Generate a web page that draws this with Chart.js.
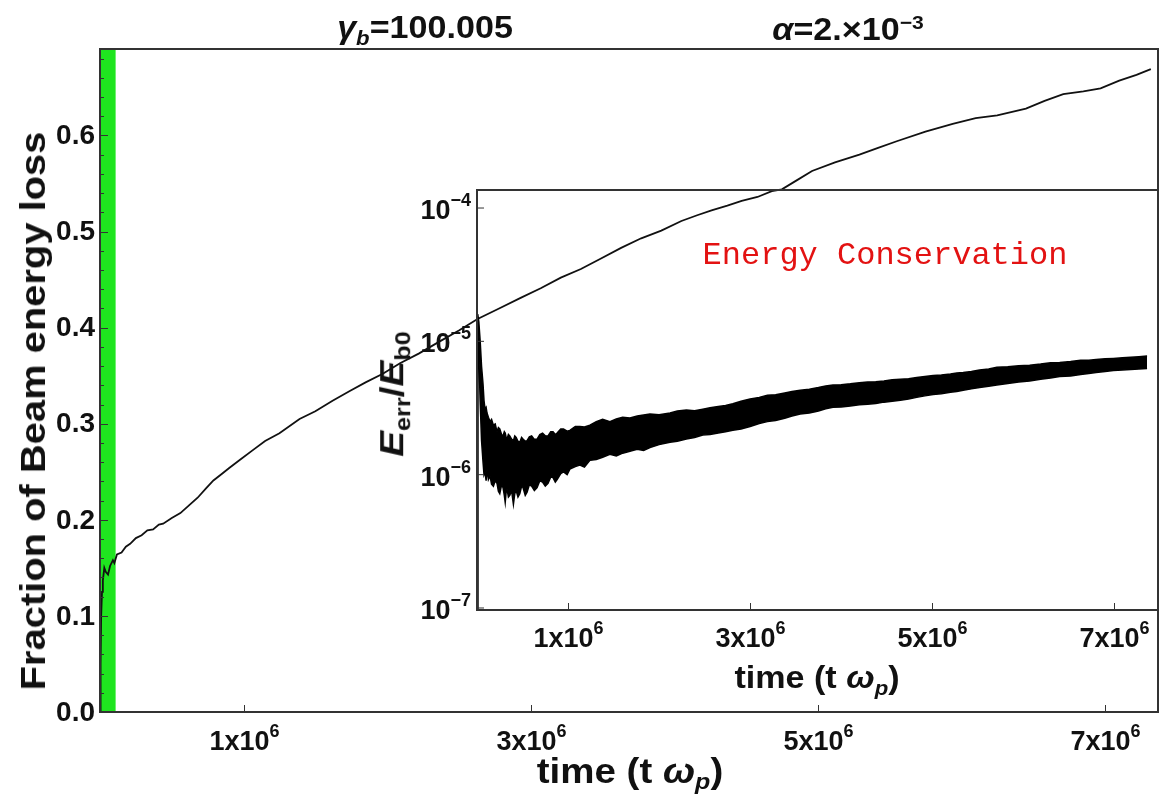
<!DOCTYPE html>
<html>
<head>
<meta charset="utf-8">
<title>Beam energy loss</title>
<script src="https://cdn.jsdelivr.net/npm/chart.js@4.4.1/dist/chart.umd.min.js"></script>
<style>
  body { margin: 0; background: #fff; }
  #wrap { position: relative; width: 1161px; height: 800px; overflow: hidden;
          font-family: "Liberation Sans", Arial, sans-serif; font-weight: bold; color: #111; }
  #mainChart { position: absolute; left: 0; top: 0; }
  #insetChart { position: absolute; left: 360px; top: 170px; }
  .lbl { position: absolute; white-space: nowrap; transform: translate(-50%, -50%) scaleX(1.1); }
  .lbl sub { font-size: 0.65em; vertical-align: -0.3em; }
  .lbl sup { font-size: 0.62em; vertical-align: 0.6em; }
  .rot { transform: translate(-50%, -50%) rotate(-90deg) scaleX(1.14); }
  #energyNote { font-family: "Liberation Mono", "Courier New", monospace; font-weight: normal;
                color: #e31212; font-size: 32px; transform: translate(-50%, -50%); }
</style>
</head>
<body>
<div id="wrap">
  <canvas id="mainChart" width="1161" height="800"></canvas>
  <canvas id="insetChart" width="801" height="530"></canvas>

  <div class="lbl" style="left:425px; top:30px; font-size:31px;"><i>γ</i><sub><i>b</i></sub>=100.005</div>
  <div class="lbl" style="left:848px; top:30px; font-size:31px;"><i>α</i>=2.×10<sup>−3</sup></div>
  <div class="lbl rot" style="left:33px; top:411px; font-size:35px;">Fraction of Beam energy loss</div>
  <div class="lbl" style="left:630px; top:773px; font-size:35px;">time (t <i>ω</i><sub><i>p</i></sub>)</div>
  <div class="lbl" style="left:817px; top:680px; font-size:31px;">time (t <i>ω</i><sub><i>p</i></sub>)</div>
  <div class="lbl rot" style="left:394px; top:394px; font-size:34px;"><i>E</i><sub>err</sub>/<i>E</i><sub>b0</sub></div>
  <div class="lbl" id="energyNote" style="left:885px; top:255px;">Energy Conservation</div>
</div>

<script>
// fraction of beam energy lost vs time (time in units of 10^6 / omega_p)
const lossTime = [0, 0.004, 0.008, 0.014, 0.02, 0.03, 0.04, 0.056, 0.07, 0.09, 0.1, 0.118,
  0.15, 0.18, 0.21, 0.25, 0.29, 0.33, 0.37, 0.41, 0.44, 0.5, 0.56, 0.62, 0.68, 0.74, 0.79,
  0.85, 0.9, 0.98, 1.06, 1.15, 1.25, 1.39, 1.5, 1.62, 1.74, 1.85, 1.97, 2.09, 2.22, 2.37,
  2.5, 2.63, 2.78, 2.93, 3.07, 3.21, 3.35, 3.49, 3.63, 3.77, 3.91, 4.05, 4.16, 4.26, 4.37,
  4.47, 4.58, 4.68, 4.75, 4.85, 4.96, 5.12, 5.29, 5.42, 5.55, 5.75, 5.94, 6.1, 6.25, 6.45,
  6.58, 6.71, 6.85, 6.97, 7.1, 7.22, 7.32];
const lossFrac = [0, 0.05, 0.1, 0.125, 0.137, 0.15, 0.146, 0.143, 0.152, 0.158, 0.155, 0.164,
  0.166, 0.172, 0.175, 0.181, 0.184, 0.189, 0.19, 0.195, 0.196, 0.202, 0.207, 0.215, 0.223,
  0.233, 0.241, 0.248, 0.254, 0.263, 0.272, 0.282, 0.29, 0.305, 0.313, 0.324, 0.334, 0.343,
  0.352, 0.363, 0.373, 0.386, 0.397, 0.409, 0.42, 0.431, 0.441, 0.452, 0.461, 0.472, 0.483,
  0.493, 0.501, 0.511, 0.517, 0.522, 0.527, 0.532, 0.536, 0.542, 0.544, 0.553, 0.563, 0.572,
  0.58, 0.587, 0.594, 0.604, 0.612, 0.618, 0.621, 0.628, 0.636, 0.643, 0.646, 0.649, 0.657,
  0.663, 0.669];

// shaded early-time window
const bandEnd = 0.11;

// energy conservation error: upper and lower edge of the oscillating trace
const errTime = [0, 0.008, 0.02, 0.035, 0.05, 0.066, 0.077, 0.088, 0.1, 0.11, 0.125, 0.143,
  0.16, 0.18, 0.2, 0.22, 0.235, 0.25, 0.27, 0.286, 0.3, 0.31, 0.32, 0.33, 0.345, 0.36, 0.38,
  0.4, 0.415, 0.43, 0.45, 0.47, 0.49, 0.505, 0.53, 0.55, 0.575, 0.6, 0.63, 0.66, 0.69, 0.72,
  0.75, 0.78, 0.81, 0.835, 0.86, 0.88, 0.92, 0.95, 0.99, 1.02, 1.08, 1.13, 1.18, 1.24, 1.31,
  1.38, 1.46, 1.53, 1.6, 1.68, 1.76, 1.83, 1.9, 2.0, 2.12, 2.2, 2.3, 2.39, 2.48, 2.56, 2.65,
  2.73, 2.81, 2.9, 3.0, 3.1, 3.19, 3.28, 3.38, 3.46, 3.55, 3.65, 3.75, 3.83, 3.91, 4.0, 4.1,
  4.2, 4.29, 4.38, 4.47, 4.56, 4.65, 4.74, 4.83, 4.92, 5.01, 5.1, 5.2, 5.27, 5.34, 5.43, 5.52,
  5.62, 5.71, 5.83, 5.95, 6.07, 6.19, 6.3, 6.4, 6.52, 6.63, 6.72, 6.8, 6.9, 6.99, 7.09, 7.18,
  7.27, 7.36];
const errHigh = [1e-8, 1.6e-5, 1.4e-5, 1.0e-5, 6.5e-6, 4.8e-6, 3.6e-6, 3.1e-6, 3.2e-6, 2.9e-6,
  2.7e-6, 2.5e-6, 2.6e-6, 2.35e-6, 2.4e-6, 2.1e-6, 2.25e-6, 2.2e-6, 2.0e-6, 1.95e-6, 2.1e-6,
  2.05e-6, 1.9e-6, 1.85e-6, 2.0e-6, 1.95e-6, 1.85e-6, 1.8e-6, 1.95e-6, 1.9e-6, 1.78e-6, 1.75e-6,
  1.9e-6, 1.85e-6, 1.78e-6, 1.8e-6, 1.92e-6, 1.95e-6, 1.84e-6, 1.85e-6, 2.0e-6, 2.05e-6, 1.96e-6,
  1.95e-6, 2.1e-6, 2.1e-6, 2.0e-6, 2.05e-6, 2.2e-6, 2.2e-6, 2.12e-6, 2.15e-6, 2.3e-6, 2.3e-6,
  2.28e-6, 2.35e-6, 2.5e-6, 2.6e-6, 2.5e-6, 2.62e-6, 2.7e-6, 2.66e-6, 2.75e-6, 2.8e-6, 2.85e-6,
  2.82e-6, 2.9e-6, 3.0e-6, 3.05e-6, 3.02e-6, 3.1e-6, 3.18e-6, 3.25e-6, 3.3e-6, 3.4e-6, 3.55e-6,
  3.7e-6, 3.8e-6, 3.95e-6, 3.98e-6, 4.1e-6, 4.2e-6, 4.3e-6, 4.38e-6, 4.5e-6, 4.62e-6, 4.7e-6,
  4.72e-6, 4.8e-6, 4.9e-6, 4.95e-6, 4.98e-6, 5.05e-6, 5.15e-6, 5.2e-6, 5.25e-6, 5.35e-6,
  5.45e-6, 5.55e-6, 5.6e-6, 5.7e-6, 5.8e-6, 5.85e-6, 5.95e-6, 6.1e-6, 6.2e-6, 6.4e-6, 6.45e-6,
  6.55e-6, 6.62e-6, 6.75e-6, 6.9e-6, 6.95e-6, 7.05e-6, 7.2e-6, 7.22e-6, 7.3e-6, 7.4e-6,
  7.45e-6, 7.52e-6, 7.6e-6, 7.68e-6, 7.75e-6];
const errLow = [1e-8, 1.3e-5, 8e-6, 3.5e-6, 1.8e-6, 1.25e-6, 1.0e-6, 1.05e-6, 0.9e-6, 1.1e-6,
  0.92e-6, 0.98e-6, 0.85e-6, 0.82e-6, 0.9e-6, 0.86e-6, 0.75e-6, 0.72e-6, 0.84e-6, 0.8e-6,
  0.7e-6, 0.62e-6, 0.74e-6, 0.78e-6, 0.68e-6, 0.7e-6, 0.76e-6, 0.6e-6, 0.72e-6, 0.76e-6,
  0.68e-6, 0.72e-6, 0.82e-6, 0.8e-6, 0.7e-6, 0.74e-6, 0.84e-6, 0.82e-6, 0.76e-6, 0.8e-6,
  0.9e-6, 0.88e-6, 0.82e-6, 0.86e-6, 0.96e-6, 0.95e-6, 0.88e-6, 0.92e-6, 1.02e-6, 1.05e-6,
  1.0e-6, 1.1e-6, 1.15e-6, 1.18e-6, 1.14e-6, 1.28e-6, 1.3e-6, 1.35e-6, 1.42e-6, 1.38e-6,
  1.45e-6, 1.5e-6, 1.55e-6, 1.52e-6, 1.6e-6, 1.68e-6, 1.75e-6, 1.78e-6, 1.85e-6, 1.9e-6,
  1.98e-6, 2.0e-6, 2.05e-6, 2.1e-6, 2.15e-6, 2.2e-6, 2.3e-6, 2.42e-6, 2.5e-6, 2.55e-6, 2.65e-6,
  2.75e-6, 2.85e-6, 2.9e-6, 3.0e-6, 3.12e-6, 3.2e-6, 3.22e-6, 3.28e-6, 3.35e-6, 3.38e-6,
  3.42e-6, 3.5e-6, 3.55e-6, 3.62e-6, 3.7e-6, 3.8e-6, 3.9e-6, 4.0e-6, 4.05e-6, 4.15e-6, 4.2e-6,
  4.3e-6, 4.4e-6, 4.5e-6, 4.6e-6, 4.7e-6, 4.82e-6, 4.95e-6, 5.05e-6, 5.2e-6, 5.3e-6, 5.45e-6,
  5.5e-6, 5.65e-6, 5.75e-6, 5.85e-6, 5.95e-6, 6.05e-6, 6.1e-6, 6.15e-6, 6.2e-6, 6.25e-6];

// tick labels
const lossTicks = [0, 0.1, 0.2, 0.3, 0.4, 0.5, 0.6];
const timeTicks = [1, 3, 5, 7];
const errExponents = [-7, -6, -5, -4];

const FONT = '"Liberation Sans", Arial, sans-serif';
const INK = '#111';

function pts(xs, ys, xScale) {
  return xs.map((x, i) => ({ x: x * xScale, y: ys[i] }));
}

// "1x10" followed by a raised exponent
function supLabel(ctx, base, sup, x, baseline, align) {
  ctx.font = 'bold 27px ' + FONT;
  const w1 = ctx.measureText(base).width;
  ctx.font = 'bold 18px ' + FONT;
  const w2 = ctx.measureText(sup).width;
  let left = align === 'right' ? x - w1 - w2 : x - (w1 + w2) / 2;
  ctx.textAlign = 'left';
  ctx.textBaseline = 'alphabetic';
  ctx.font = 'bold 27px ' + FONT;
  ctx.fillText(base, left, baseline);
  ctx.font = 'bold 18px ' + FONT;
  ctx.fillText(sup, left + w1, baseline - 13);
}

function frame(ctx, a) {
  ctx.strokeStyle = '#333';
  ctx.lineWidth = 2;
  ctx.strokeRect(a.left, a.top, a.right - a.left, a.bottom - a.top);
}

const mainAxes = {
  id: 'mainAxes',
  afterDraw(chart) {
    const { ctx, chartArea: a, scales: { x, y } } = chart;
    ctx.save();
    frame(ctx, a);
    ctx.strokeStyle = '#333';
    ctx.lineWidth = 1;
    // minor ticks every 0.02 on the left axis
    for (let v = 0.02; v < 0.69; v += 0.02) {
      const py = Math.round(y.getPixelForValue(v)) + 0.5;
      const len = Math.abs(v * 10 - Math.round(v * 10)) < 1e-6 ? 8 : 4;
      ctx.beginPath(); ctx.moveTo(a.left, py); ctx.lineTo(a.left + len, py); ctx.stroke();
    }
    ctx.fillStyle = INK;
    ctx.font = 'bold 28px ' + FONT;
    ctx.textAlign = 'right';
    ctx.textBaseline = 'middle';
    lossTicks.forEach(v => ctx.fillText(v.toFixed(1), a.left - 5, y.getPixelForValue(v) + 1));
    timeTicks.forEach(t => {
      const px = Math.round(x.getPixelForValue(t * 1e6)) + 0.5;
      ctx.beginPath(); ctx.moveTo(px, a.bottom); ctx.lineTo(px, a.bottom - 7); ctx.stroke();
      supLabel(ctx, t + 'x10', '6', px, a.bottom + 38, 'center');
    });
    ctx.restore();
  }
};

const insetAxes = {
  id: 'insetAxes',
  afterDraw(chart) {
    const { ctx, chartArea: a, scales: { x, y } } = chart;
    ctx.save();
    frame(ctx, a);
    ctx.strokeStyle = '#333';
    ctx.lineWidth = 1;
    ctx.fillStyle = INK;
    errExponents.forEach(e => {
      const py = y.getPixelForValue(Math.pow(10, e));
      ctx.beginPath(); ctx.moveTo(a.left, py); ctx.lineTo(a.left + 7, py); ctx.stroke();
      supLabel(ctx, '10', '−' + Math.abs(e), a.left - 6, py + 11, 'right');
    });
    timeTicks.forEach(t => {
      const px = Math.round(x.getPixelForValue(t * 1e6)) + 0.5;
      ctx.beginPath(); ctx.moveTo(px, a.bottom); ctx.lineTo(px, a.bottom - 7); ctx.stroke();
      supLabel(ctx, t + 'x10', '6', px, a.bottom + 37, 'center');
    });
    ctx.restore();
  }
};

// Main chart
new Chart(document.getElementById('mainChart'), {
  type: 'line',
  data: {
    datasets: [{
      data: pts(lossTime, lossFrac, 1e6),
      borderColor: INK,
      borderWidth: 1.8,
      pointRadius: 0,
      tension: 0
    }, {
      data: [{ x: 0, y: 0.69 }, { x: bandEnd * 1e6, y: 0.69 }],
      borderWidth: 0,
      backgroundColor: '#1fe51f',
      fill: 'origin',
      pointRadius: 0
    }]
  },
  options: {
    responsive: false,
    animation: false,
    layout: { padding: { left: 0, right: 3, top: 49, bottom: 0 } },
    plugins: { legend: { display: false }, tooltip: { enabled: false } },
    scales: {
      x: {
        type: 'linear', min: 0, max: 7.37e6,
        grid: { display: false }, border: { display: false },
        ticks: { display: false },
        afterFit(s) { s.height = 88; }
      },
      y: {
        min: 0, max: 0.69,
        grid: { display: false }, border: { display: false },
        ticks: { display: false },
        afterFit(s) { s.width = 100; }
      }
    }
  },
  plugins: [mainAxes]
});

// Inset: energy conservation error on a log scale
new Chart(document.getElementById('insetChart'), {
  type: 'line',
  data: {
    datasets: [{
      data: pts(errTime, errHigh, 1e6),
      borderColor: '#000',
      borderWidth: 1.5,
      pointRadius: 0,
      tension: 0,
      fill: false
    }, {
      data: pts(errTime, errLow, 1e6),
      borderColor: '#000',
      borderWidth: 1.5,
      backgroundColor: '#000',
      pointRadius: 0,
      tension: 0,
      fill: '-1'
    }]
  },
  options: {
    responsive: false,
    animation: false,
    layout: { padding: { left: 0, right: 3, top: 20, bottom: 0 } },
    plugins: { legend: { display: false }, tooltip: { enabled: false } },
    scales: {
      x: {
        type: 'linear', min: 0, max: 7.48e6,
        grid: { display: false }, border: { display: false },
        ticks: { display: false },
        afterFit(s) { s.height = 90; }
      },
      y: {
        type: 'logarithmic', min: 9.66e-8, max: 1.365e-4,
        grid: { display: false }, border: { display: false },
        ticks: { display: false },
        afterFit(s) { s.width = 117; }
      }
    }
  },
  plugins: [insetAxes]
});
</script>
</body>
</html>
